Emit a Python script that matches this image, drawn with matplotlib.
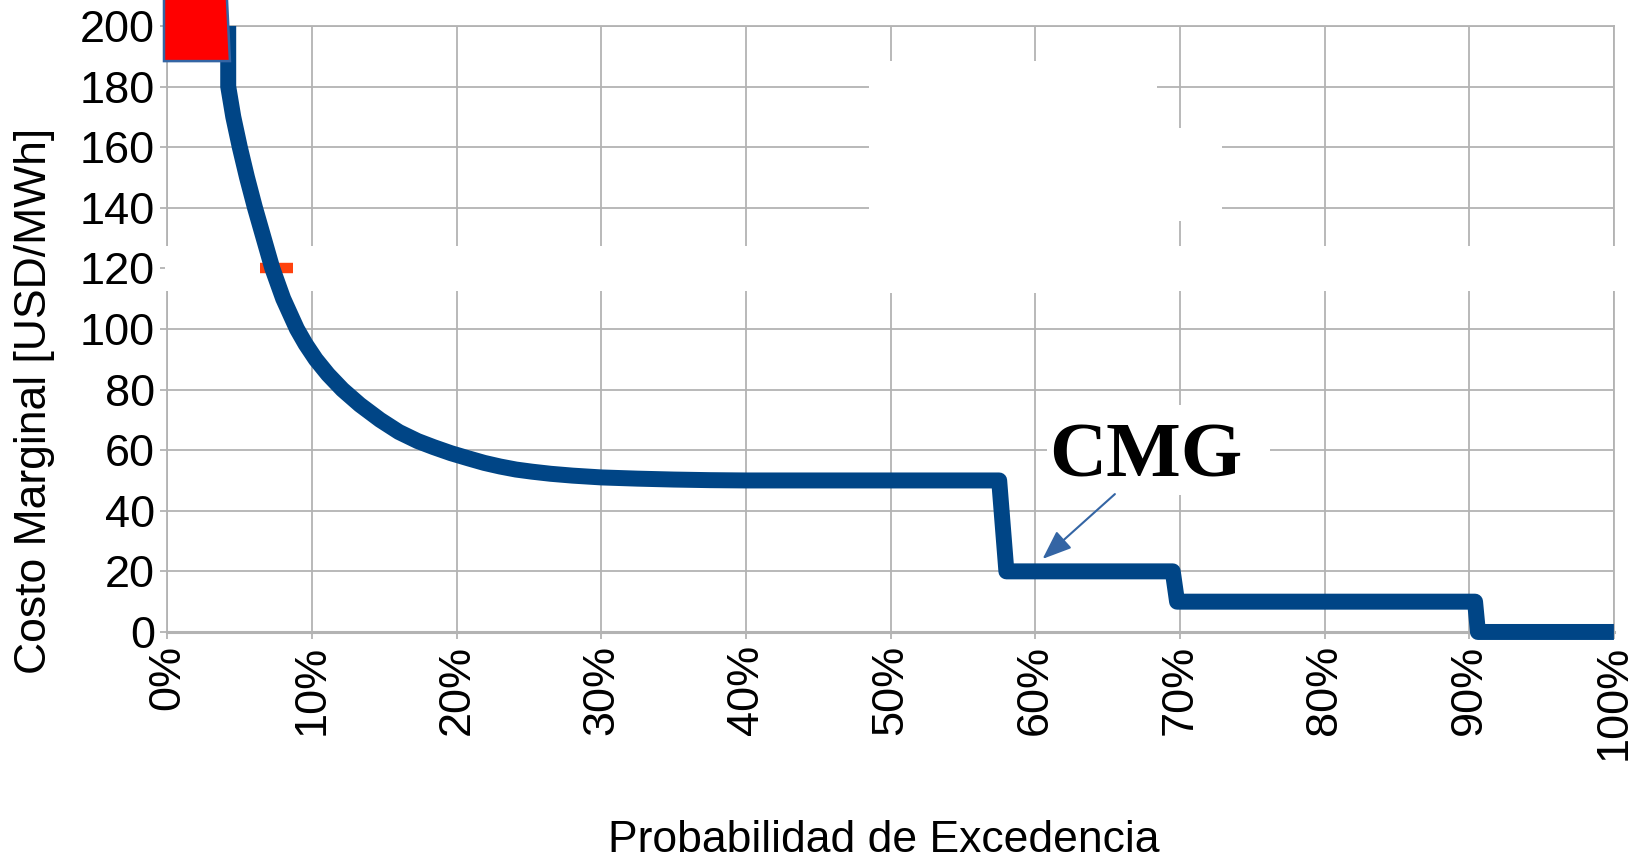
import matplotlib
matplotlib.use('Agg')
import matplotlib.pyplot as plt
from matplotlib.patches import Polygon, Rectangle

plt.rcParams['font.family'] = ['Liberation Sans', 'DejaVu Sans']

# curva de costo marginal (probabilidad de excedencia en %, USD/MWh)
prob = [4.2, 4.2, 4.55, 5.0, 5.5, 6.05, 6.65, 7.25, 8.0, 8.95, 9.55, 10.25,
        11.1, 12.1, 13.3, 14.7, 16.0, 17.3, 18.4, 19.6, 20.8, 21.9, 23.0,
        24.1, 25.2, 26.5, 28.0, 30.0, 32.5, 35.0, 37.5, 40.0, 57.5, 58.0,
        69.5, 69.8, 90.4, 90.6, 100.0]
cmg = [200, 180, 170, 160, 150, 140, 130, 120, 110, 100, 95, 90,
       85, 80, 75, 70, 66, 63, 61, 59, 57.3, 55.8, 54.6,
       53.6, 52.9, 52.2, 51.6, 51.0, 50.6, 50.3, 50.1, 50, 50, 20,
       20, 10, 10, 0, 0]

x_ticks = [0, 10, 20, 30, 40, 50, 60, 70, 80, 90, 100]
x_labels = ['0%', '10%', '20%', '30%', '40%', '50%', '60%', '70%', '80%', '90%', '100%']
y_ticks = [0, 20, 40, 60, 80, 100, 120, 140, 160, 180, 200]

# recuadro rojo arriba a la izquierda y marca naranja
red_x = [-0.24, 4.32, 4.05, -0.24]
red_y = [188.4, 188.4, 215, 215]
dash_x = [6.4, 8.66]
dash_y = 120

# zonas blancas que tapan la grilla
gap_x0 = [48.5, 48.5, -0.15, 60.8]
gap_x1 = [68.4, 72.9, 100.3, 76.2]
gap_y0 = [112.0, 135.6, 112.5, 45.2]
gap_y1 = [188.4, 166.3, 127.4, 74.9]

# anotacion
label_xy = (67.6, 51.2)
arrow_from = (65.5, 45.5)
arrow_to = (60.5, 24.1)

grid_c = '#b3b3b3'

fig = plt.figure(figsize=(16.45, 8.59), dpi=100)
ax = fig.add_axes([0.1018, 0.2643, 0.8793, 0.7055])

ax.set_xlim(0, 100)
ax.set_ylim(0, 200)
ax.set_axisbelow(True)
ax.grid(True, color=grid_c, linewidth=1.3)
for s in ax.spines.values():
    s.set_color(grid_c)
    s.set_linewidth(1.3)
ax.spines['bottom'].set_linewidth(2.2)

ax.set_xticks(x_ticks)
ax.set_xticklabels(x_labels, rotation=90)
ax.set_yticks(y_ticks)
ax.tick_params(axis='both', labelsize=32.5, color=grid_c, width=1.3, length=5)
ax.tick_params(axis='y', pad=4)
ax.tick_params(axis='x', pad=4)

for x0, x1, y0, y1 in zip(gap_x0, gap_x1, gap_y0, gap_y1):
    ax.add_patch(Rectangle((x0, y0), x1 - x0, y1 - y0, facecolor='white',
                           edgecolor='none', zorder=2.7, clip_on=False))

ax.plot(dash_x, [dash_y, dash_y], color='#ff420e', linewidth=7.5,
        solid_capstyle='butt', zorder=2.8)
ax.plot(prob, cmg, color='#004586', linewidth=11.5, solid_joinstyle='round',
        solid_capstyle='butt', zorder=3, clip_on=False)

ax.add_patch(Polygon(list(zip(red_x, red_y)), closed=True, facecolor='#ff0000',
                     edgecolor='#3465a4', linewidth=1.8, zorder=4, clip_on=False))

ax.text(label_xy[0], label_xy[1], 'CMG', ha='center', va='baseline',
        fontsize=57, fontweight='bold', family=['Liberation Serif', 'DejaVu Serif'],
        zorder=5)
ax.annotate('', xy=arrow_to, xytext=arrow_from,
            arrowprops=dict(arrowstyle='-|>,head_length=0.9,head_width=0.35',
                            color='#3465a4', lw=1.5, mutation_scale=20,
                            shrinkA=0, shrinkB=0), zorder=5)

fig.text(0.021, 0.533, 'Costo Marginal [USD/MWh]', rotation=90, fontsize=32,
         ha='center', va='center')
fig.text(0.537, 0.021, 'Probabilidad de Excedencia', fontsize=32,
         ha='center', va='center')

fig.savefig('out.png', dpi=100)
